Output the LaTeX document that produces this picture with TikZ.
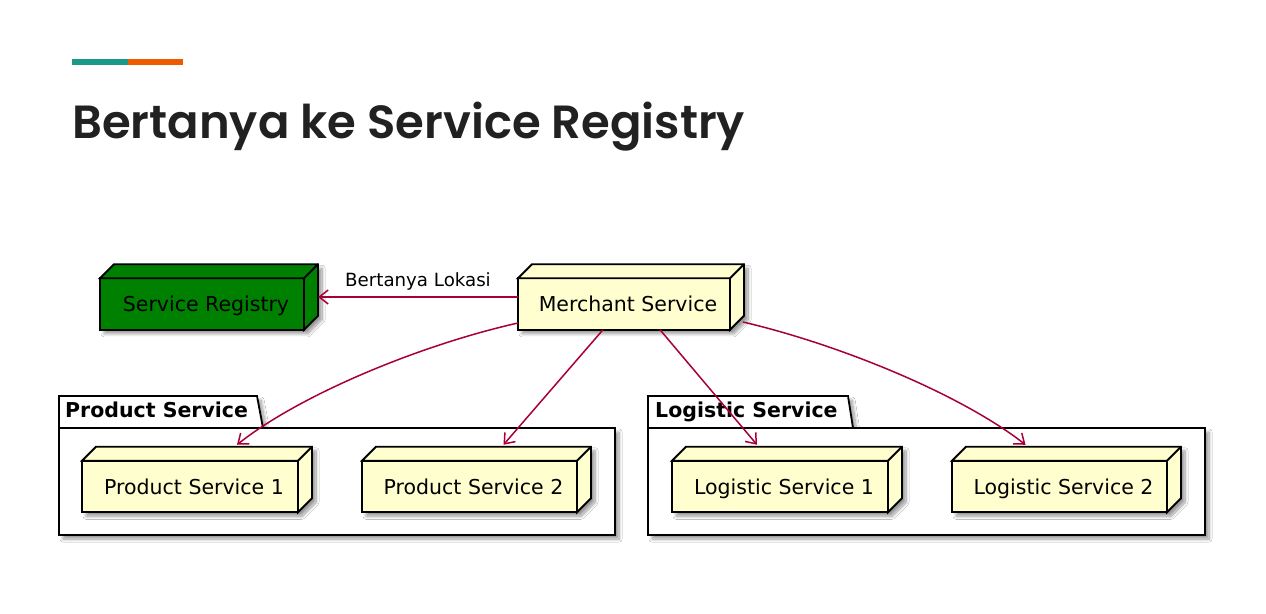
\documentclass[tikz,border=0pt]{standalone}
\usepackage{fontspec}
\usetikzlibrary{arrows.meta,shadows.blur}
\newfontfamily\dv{DejaVu Sans}
\newfontfamily\titlefont{Poppins SemiBold}
\definecolor{nodefill}{HTML}{FEFECE}
\definecolor{regfill}{HTML}{008000}
\definecolor{edgecol}{HTML}{A80036}
\definecolor{barteal}{HTML}{1A9988}
\definecolor{barorange}{HTML}{EE5A00}
\definecolor{titlecol}{HTML}{212121}
\pgfdeclarelayer{bg}
\pgfsetlayers{bg,main}
\tikzset{
  frontface/.style={draw, line width=1.8pt, minimum height=51.5pt, inner sep=0pt, outer sep=0pt,
    text height=15pt, text depth=0pt, font=\dv\fontsize{20.5}{24}\selectfont},
  faces/.style={draw, line width=1.8pt, line join=miter},
  shade3d/.style={blur shadow={shadow xshift=4pt, shadow yshift=-4pt, shadow blur radius=3pt,
    shadow blur steps=12, shadow opacity=40}},
  pkgshape/.style={draw, fill=white, line width=1.8pt, shade3d},
  pkgframe/.style={pkgshape, inner sep=0pt, outer sep=0pt, anchor=north west},
  pkglabel/.style={inner sep=0pt, anchor=base west, font=\dv\bfseries\fontsize{20.5}{24}\selectfont},
  lbl/.style={inner sep=0pt, font=\dv\fontsize{18.2}{22}\selectfont},
  arr/.style={draw=edgecol, line width=1.5pt, -{Straight Barb[length=9pt,width=14pt,line width=1.5pt]}},
}
\newcommand\boxnode[5]{%
  \node[frontface, fill=#4, minimum width=#3] (#1) at #2 {\hspace*{8pt}#5};
  \begin{pgfonlayer}{bg}
    \path[shade3d, fill=#4] (#1.south west) -- (#1.north west) -- ++(14,-14)
      -- ([shift={(14,-14)}]#1.north east) -- ([shift={(14,-14)}]#1.south east)
      -- (#1.south east) -- cycle;
  \end{pgfonlayer}
  \draw[faces, fill=#4] (#1.north west) -- ++(14,-14) -- ([shift={(14,-14)}]#1.north east)
    -- ([shift={(14,-14)}]#1.south east) -- (#1.south east) -- (#1.north east) -- cycle;
  \draw[faces] (#1.north east) -- ++(14,-14);
}
\begin{document}
\begin{tikzpicture}[x=1pt,y=-1pt]
\begin{pgfonlayer}{bg}
  \fill[white] (0,0) rectangle (1266,613);
\end{pgfonlayer}
\useasboundingbox (0,0) rectangle (1266,613);
% header bar and title
\fill[barteal] (72,59) rectangle (128,65);
\fill[barorange] (128,59) rectangle (183,65);
\node[anchor=base west, inner sep=0pt, text=titlecol,
  font=\titlefont\fontsize{46.5}{54}\selectfont] (title) at (72,138) {Bertanya ke Service Registry};
% packages
\begin{pgfonlayer}{bg}
  \draw[pkgshape] (59,428) -- (59,396) -- (257,396) -- (263,428) -- cycle;
  \node[pkgframe, minimum width=556pt, minimum height=107pt] (pframe) at (59,428) {};
  \draw[pkgshape] (648,428) -- (648,396) -- (848,396) -- (853,428) -- cycle;
  \node[pkgframe, minimum width=557pt, minimum height=107pt] (lframe) at (648,428) {};
\end{pgfonlayer}
\node[pkglabel] (plab) at (65,417) {Product Service};
\node[pkglabel] (llab) at (655,417) {Logistic Service};
% nodes
\boxnode{reg}{(202,304)}{204pt}{regfill}{Service Registry}
\boxnode{ms}{(624,304)}{212pt}{nodefill}{Merchant Service}
\boxnode{ps1}{(190,486.5)}{216pt}{nodefill}{Product Service 1}
\boxnode{ps2}{(469.5,486.5)}{215pt}{nodefill}{Product Service 2}
\boxnode{ls1}{(780,486.5)}{216pt}{nodefill}{Logistic Service 1}
\boxnode{ls2}{(1059.5,486.5)}{215pt}{nodefill}{Logistic Service 2}
% connectors
\draw[arr] ([yshift=7pt]ms.west) -- node[lbl, anchor=base, yshift=11pt] (lab) {Bertanya Lokasi}
  ([xshift=14pt,yshift=7pt]reg.east);
\draw[arr] ([yshift=-19pt]ms.west) .. controls +(-98,22) and +(63,-50) .. ([xshift=47pt,yshift=16pt]ps1.north);
\draw[arr] ([xshift=-21pt]ms.south) -- ([xshift=34pt,yshift=16pt]ps2.north);
\draw[arr] ([xshift=36pt]ms.south) -- ([xshift=-23pt,yshift=16pt]ls1.north);
\draw[arr] ([xshift=13pt,yshift=-18pt]ms.east) .. controls +(98,23) and +(-64,-50) .. ([xshift=-34pt,yshift=16pt]ls2.north);
\end{tikzpicture}
\end{document}
